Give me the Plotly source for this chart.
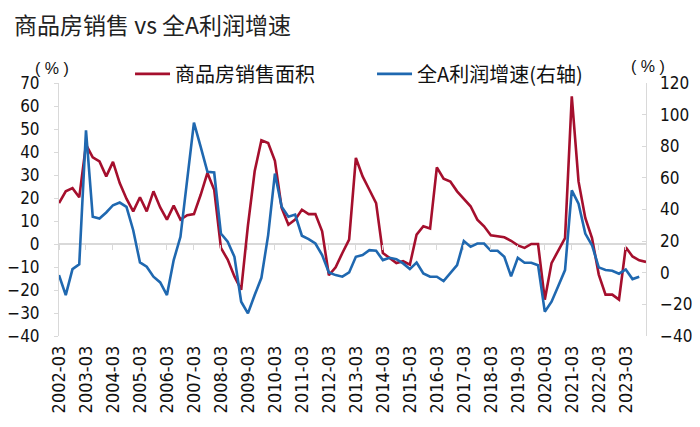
import plotly.graph_objects as go

years = list(range(2002, 2024))
months = ["03", "06", "09", "12"]
quarters = [f"{y}-{m}" for y in years for m in months]
tick_labels = [f"{y}-03" for y in years]

# 商品房销售面积 累计同比 (%), left axis
sales_area = [
    17.8, 22.9, 24.3, 20.3,
    43.2, 37.7, 35.9, 29.4,
    35.7, 26.5, 19.7, 14.2,
    20.3, 14.2, 22.9, 15.9,
    10.6, 16.7, 10.6, 12.5,
    13.0, 21.4, 30.9, 23.6,
    -1.7, -6.8, -14.1, -19.9,
    8.0, 31.6, 45.1, 43.9,
    36.2, 15.7, 8.4, 10.6,
    14.9, 13.0, 13.0, 5.5,
    -13.6, -10.1, -3.9, 1.9,
    37.4, 29.4, 23.6, 17.8,
    -3.9, -6.1, -8.3, -7.5,
    -9.0, 4.1, 7.7, 6.7,
    33.3, 28.4, 27.2, 22.9,
    19.7, 16.4, 10.6, 7.7,
    3.8, 3.3, 2.9, 1.4,
    -0.6, -1.7, 0.0, 0.0,
    -24.2, -8.3, -2.5, 2.6,
    64.2, 27.2, 11.3, 2.6,
    -13.3, -22.0, -22.0, -24.2,
    -1.4, -5.4, -7.1, -7.8,
]

# 全A利润增速 (%), right axis
profit_growth = [
    -1.5, -14.1, 2.3, 5.3,
    90.1, 35.4, 34.3, 38.1,
    42.7, 44.4, 41.7, 26.9,
    6.5, 3.8, -2.5, -6.1,
    -14.1, 8.0, 22.7, 58.0,
    94.9, 79.6, 63.8, 63.4,
    24.8, 19.6, 10.1, -18.3,
    -25.7, -14.1, -3.2, 23.8,
    62.7, 41.7, 35.4, 36.8,
    23.4, 21.3, 18.5, 11.2,
    0.2, -1.5, -2.5, 0.2,
    10.1, 11.2, 14.3, 13.9,
    8.0, 9.5, 8.6, 5.9,
    2.3, 6.5, -0.4, -2.5,
    -2.5, -5.3, -0.4, 4.8,
    20.0, 16.4, 18.5, 18.5,
    13.9, 13.9, 10.1, -2.3,
    9.5, 6.3, 6.3, 4.8,
    -24.6, -18.3, -8.4, 1.7,
    52.1, 43.7, 24.8, 17.4,
    3.4, 1.7, 1.3, -0.6,
    2.1, -4.0, -2.5,
]

RED = "#A50F2D"
BLUE = "#1F68B0"
GRID = "#D9D9D9"
NUM_FONT = "Liberation Sans Narrow, Arial Narrow, DejaVu Sans Condensed, Liberation Sans, Arial, sans-serif"
CJK_FONT = "Noto Sans CJK SC, sans-serif"
NB = "\u00a0"

fig = go.Figure()
fig.add_trace(go.Scatter(
    x=quarters, y=sales_area, name="商品房销售面积", mode="lines",
    line=dict(color=RED, width=2.6),
))
fig.add_trace(go.Scatter(
    x=quarters[:len(profit_growth)], y=profit_growth, name="全A利润增速(右轴)",
    mode="lines", yaxis="y2", line=dict(color=BLUE, width=2.6),
))
# helper trace so the zero-line tick axis is drawn
fig.add_trace(go.Scatter(
    x=quarters, y=[None] * len(quarters), xaxis="x2", showlegend=False,
    hoverinfo="skip", mode="lines",
))

fig.update_layout(
    width=700, height=427,
    paper_bgcolor="white", plot_bgcolor="white",
    margin=dict(l=51, r=62, t=75, b=99, autoexpand=False),
    title=dict(
        text="商品房销售 vs 全A利润增速", x=6 / 700, xanchor="left",
        y=1 - 18 / 427, yanchor="middle", yref="container",
        font=dict(family=CJK_FONT, size=23, color="#222222"),
    ),
    showlegend=True,
    legend=dict(
        orientation="h", x=0.121, xanchor="left", y=1.036, yanchor="middle",
        font=dict(family=CJK_FONT, size=20, color="#111111"),
        entrywidth=192, bgcolor="rgba(0,0,0,0)", itemwidth=35,
    ),
    xaxis=dict(
        type="category", categoryorder="array", categoryarray=quarters,
        range=[0, len(quarters) - 1], automargin=False,
        tickmode="array", tickvals=tick_labels,
        ticktext=[t + NB for t in tick_labels],
        tickangle=-90, showline=False, ticks="", showgrid=False, zeroline=False,
        tickfont=dict(family=NUM_FONT, size=18, color="#111111"),
    ),
    xaxis2=dict(
        type="category", categoryorder="array", categoryarray=quarters,
        overlaying="x", matches="x", anchor="free", position=40 / 110,
        range=[0, len(quarters) - 1], automargin=False,
        tickmode="array", tickvals=tick_labels,
        showticklabels=False, showline=False, showgrid=False, zeroline=False,
        ticks="outside", ticklen=5, tickcolor=GRID, tickwidth=1,
    ),
    yaxis=dict(
        range=[-40, 70], dtick=10, tick0=0, automargin=False,
        showline=True, linecolor=GRID, linewidth=1,
        ticks="outside", ticklen=4, tickcolor=GRID,
        showgrid=False, zeroline=True, zerolinecolor=GRID, zerolinewidth=1.5,
        tickfont=dict(family=NUM_FONT, size=17, color="#111111"),
        ticklabelstandoff=11,
    ),
    yaxis2=dict(
        overlaying="y", side="right", range=[-40, 120], dtick=20, tick0=0,
        automargin=False,
        showline=True, linecolor=GRID, linewidth=1,
        ticks="inside", ticklen=4, tickcolor=GRID,
        showgrid=False, zeroline=False,
        tickfont=dict(family=NUM_FONT, size=17, color="#111111"),
        tickprefix=NB * 2,
    ),
    annotations=[
        dict(text="(" + NB + "%" + NB + ")", xref="paper", yref="paper",
             x=-0.012, y=1.056, xanchor="center", yanchor="middle",
             showarrow=False,
             font=dict(family="Liberation Sans, Arial, sans-serif", size=16, color="#111111")),
        dict(text="(" + NB + "%" + NB + ")", xref="paper", yref="paper",
             x=1.003, y=1.067, xanchor="center", yanchor="middle",
             showarrow=False,
             font=dict(family="Liberation Sans, Arial, sans-serif", size=16, color="#111111")),
    ],
)

fig.write_html("out.html")
